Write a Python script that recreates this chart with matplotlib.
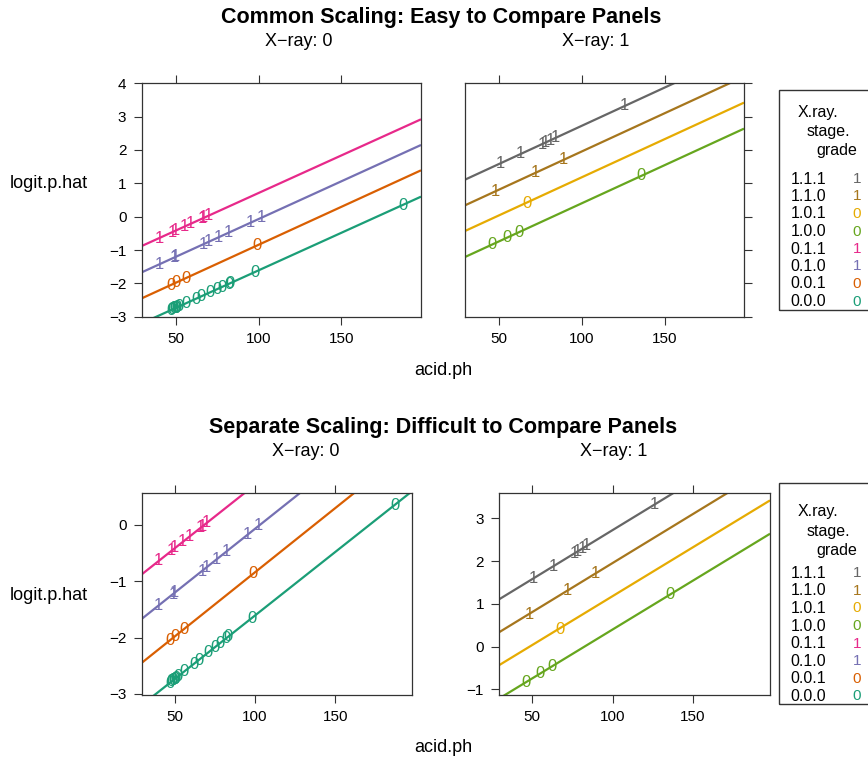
import matplotlib
matplotlib.use('Agg')
from matplotlib import pyplot as plt
from matplotlib.patches import Rectangle

plt.rcParams['font.family'] = ['Liberation Sans', 'DejaVu Sans']

# groups are X.ray.stage.grade
groups = ['0.0.0', '0.0.1', '0.1.0', '0.1.1', '1.0.0', '1.0.1', '1.1.0', '1.1.1']
colors = ['#1B9E77', '#D95F02', '#7570B3', '#E7298A', '#66A61E', '#E6AB02', '#A6761D', '#666666']
marks = ['0', '0', '1', '1', '0', '0', '1', '1']

# fitted lines, value at left / right end of acid.ph range
line_x = [29.5, 198]
line_lo = [-3.20, -2.45, -1.67, -0.88, -1.21, -0.43, 0.34, 1.11]
line_hi = [0.60, 1.39, 2.15, 2.92, 2.64, 3.42, 4.20, 4.97]

acid_000 = [47, 48, 49, 49, 50, 50, 51, 52, 56, 62, 65, 71, 75, 78, 82, 83, 98, 187]
logit_000 = [-2.81, -2.78, -2.76, -2.76, -2.74, -2.74, -2.72, -2.69, -2.60, -2.47,
             -2.40, -2.26, -2.17, -2.11, -2.02, -1.99, -1.66, 0.35]
acid_001 = [47, 50, 56, 99]
logit_001 = [-2.05, -1.98, -1.85, -0.87]
acid_010 = [40, 49, 50, 67, 70, 76, 82, 95, 102]
logit_010 = [-1.43, -1.23, -1.20, -0.82, -0.75, -0.61, -0.47, -0.18, -0.02]
acid_011 = [40, 48, 50, 55, 59, 66, 67, 70]
logit_011 = [-0.64, -0.46, -0.41, -0.30, -0.21, -0.05, -0.03, 0.04]
acid_100 = [46, 55, 62, 136]
logit_100 = [-0.83, -0.63, -0.47, 1.23]
acid_101 = [67]
logit_101 = [0.41]
acid_110 = [48, 72, 89]
logit_110 = [0.76, 1.31, 1.70]
acid_111 = [51, 63, 76, 78, 81, 84, 126]
logit_111 = [1.60, 1.88, 2.17, 2.22, 2.29, 2.36, 3.32]

acid = [acid_000, acid_001, acid_010, acid_011, acid_100, acid_101, acid_110, acid_111]
logit = [logit_000, logit_001, logit_010, logit_011, logit_100, logit_101, logit_110, logit_111]

W, H = 868, 757
fig = plt.figure(figsize=(W / 100, H / 100), dpi=100)


def px_axes(x0, y0, x1, y1):
    return fig.add_axes([x0 / W, 1 - y1 / H, (x1 - x0) / W, (y1 - y0) / H])


def ftext(x, y, s, **kw):
    fig.text(x / W, 1 - y / H, s, **kw)


def draw_panel(ax, idx, ylim, yticks, left_ticks, left_labels, right_ticks):
    for i in idx:
        ax.plot(line_x, [line_lo[i], line_hi[i]], color=colors[i], lw=1.6, solid_capstyle='butt')
        for x, y in zip(acid[i], logit[i]):
            ax.text(x, y, marks[i], color=colors[i], fontsize=12, ha='center', va='center')
    ax.set_xlim(29.5, 198)
    ax.set_ylim(*ylim)
    ax.set_xticks([50, 100, 150])
    ax.set_yticks(yticks)
    ax.tick_params(direction='out', length=6, width=0.8, color='#333333', labelsize=11, pad=5,
                   top=True, labeltop=False, bottom=True, left=left_ticks, labelleft=left_labels,
                   right=right_ticks, labelright=False)
    for s in ax.spines.values():
        s.set_linewidth(0.9)
        s.set_color('#333333')


# top row: common scaling
ax1 = px_axes(141.7, 83.3, 421, 316.7)
draw_panel(ax1, [0, 1, 2, 3], (-3, 4), range(-3, 5), True, True, False)
ax2 = px_axes(465, 83.3, 744, 316.7)
draw_panel(ax2, [4, 5, 6, 7], (-3, 4), range(-3, 5), False, False, True)

# bottom row: separate scaling
ax3 = px_axes(141.7, 492.7, 412.3, 695)
draw_panel(ax3, [0, 1, 2, 3], (-3.02, 0.57), [-3, -2, -1, 0], True, True, False)
ax4 = px_axes(499.3, 492.7, 770, 695)
draw_panel(ax4, [4, 5, 6, 7], (-1.13, 3.6), [-1, 0, 1, 2, 3], True, True, False)

# titles, strips, axis labels
ftext(441, 18, 'Common Scaling: Easy to Compare Panels', fontsize=15.5, fontweight='bold',
      ha='center', va='center')
ftext(299, 42, 'X\u2212ray: 0', fontsize=13, ha='center', va='center')
ftext(596, 42, 'X\u2212ray: 1', fontsize=13, ha='center', va='center')
ftext(49, 183, 'logit.p.hat', fontsize=13, ha='center', va='center')
ftext(443, 371, 'acid.ph', fontsize=13, ha='center', va='center')

ftext(443, 427, 'Separate Scaling: Difficult to Compare Panels', fontsize=15.5, fontweight='bold',
      ha='center', va='center')
ftext(306, 451, 'X\u2212ray: 0', fontsize=13, ha='center', va='center')
ftext(614, 451, 'X\u2212ray: 1', fontsize=13, ha='center', va='center')
ftext(49, 595, 'logit.p.hat', fontsize=13, ha='center', va='center')
ftext(443, 747, 'acid.ph', fontsize=13, ha='center', va='center')


def draw_key(top, bottom, title_y, row0, step):
    box = Rectangle((779.3 / W, 1 - bottom / H), 120 / W, (bottom - top) / H,
                    transform=fig.transFigure, fill=False, ec='#333333', lw=1.0)
    fig.add_artist(box)
    ftext(798, title_y, 'X.ray.', fontsize=11.5, ha='left', va='center')
    ftext(806.7, title_y + 19.5, 'stage.', fontsize=11.5, ha='left', va='center')
    ftext(816, title_y + 39, 'grade', fontsize=11.5, ha='left', va='center')
    # key is listed top to bottom from 1.1.1 down to 0.0.0
    for k, i in enumerate(range(7, -1, -1)):
        y = row0 + k * step
        ftext(790.7, y, groups[i], fontsize=11.5, ha='left', va='center')
        ftext(856.7, y, marks[i], fontsize=11, color=colors[i], ha='center', va='center')


draw_key(90, 310, 112, 179, 17.5)
draw_key(483.3, 704, 511.7, 573.3, 17.6)

fig.savefig('out.png', dpi=100)
